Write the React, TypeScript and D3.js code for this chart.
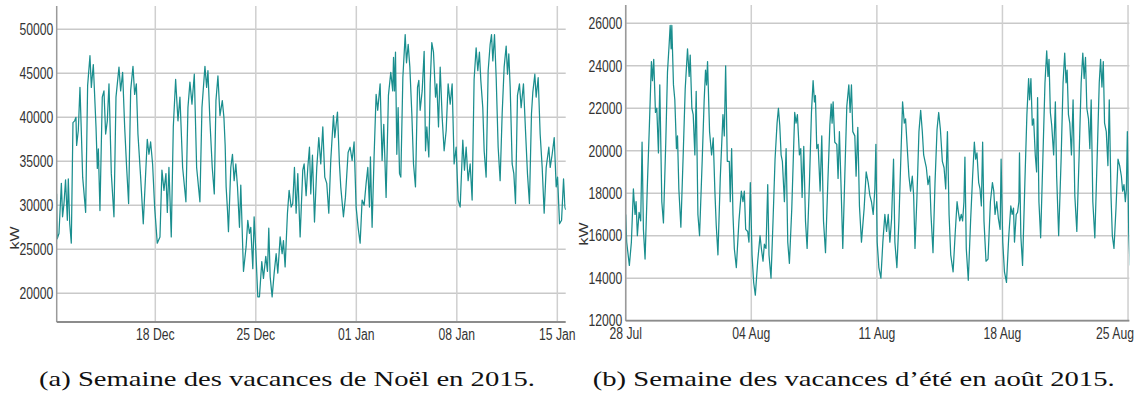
import React from "react";
import * as d3 from "d3";

// ---------- DATA ----------
// Panel (a): hours since 2015-12-11 00:00, load in kW
const noelStart = [2015, 11, 11];
const noelHourRange = [3.2, 854];
const noelKwRange = [16740, 52650];
const noelYTicks = [20000, 25000, 30000, 35000, 40000, 45000, 50000];
const noelSeries: [number, number][] = [
  [3,31300],[4,26200],[7,26800],[11,32500],[13,28700],[15.4,30200],[18,32900],[21,28300],[22.6,33000],[25,27900],
  [27.6,25700],[30.4,39400],[33.2,39600],[35.4,40000],[36.5,36800],[39.3,38500],[42.1,43400],[44.3,38500],[46.6,33200],
  [51.6,29200],[54.9,43600],[58.8,47000],[61.1,43400],[64.4,46000],[68.9,38900],[71.1,34200],[72.8,36400],[75.5,29400],
  [79.4,42300],[82.2,43000],[85,38100],[87.8,39600],[90.6,43800],[94.5,33600],[98.9,28700],[102.3,42300],[107.3,45700],
  [110.1,43000],[113.4,45100],[116.8,38900],[120.1,34300],[123.4,30200],[126.8,43000],[130.7,45800],[133.5,42600],
  [136.3,43800],[139,38100],[143.5,33200],[147.9,27900],[154.6,37500],[157.4,35800],[160.2,37200],[163.5,34700],
  [166.9,29800],[171.3,25700],[175.8,26400],[179.1,34000],[182.5,31700],[185.8,33600],[188.1,29200],[190.8,34300],
  [194.7,26400],[198.1,38900],[202,44300],[205.9,39600],[209.2,42300],[213.7,34300],[219.2,30400],[222.6,41100],
  [225.9,44000],[229.3,41500],[233.2,44900],[237.1,34300],[242.6,30400],[246,41100],[251,45800],[253.8,43400],
  [256,45300],[259.3,39600],[263.2,34300],[266.6,31300],[269.4,41900],[272.7,44700],[276.1,40200],[280,41900],
  [282.7,40000],[284.8,36800],[286.4,32100],[288.7,29400],[290.3,27000],[294.2,34300],[297,35800],[299.8,32800],
  [302.6,34700],[305.4,32100],[308.7,27500],[310.9,32300],[315.4,22500],[319.8,25300],[322.6,28300],[325.4,26800],
  [327.6,27500],[331,22800],[333.2,28700],[336,24900],[339.3,19600],[342.1,19600],[346,23600],[348.8,21700],
  [352.7,24200],[355.5,22500],[357.7,27400],[360,21900],[363.3,19600],[366.7,22300],[370,24500],[372.8,22300],
  [376.7,26400],[380,24500],[382.2,26000],[385,23000],[388.9,29100],[391.7,31700],[395.1,29800],[397.8,30200],
  [400.6,34300],[403.4,29100],[406.2,33600],[410.1,26400],[414.5,34000],[416.8,34700],[420.1,31100],[422.9,34300],
  [425.7,36600],[427.9,31300],[430.7,35700],[434.1,28100],[437.9,34300],[441.3,37700],[444.6,34700],[448,38900],
  [451.3,33200],[454.6,32500],[458,29100],[461.3,35100],[465.8,40200],[468,37700],[472.5,40600],[475.8,34700],
  [478,32100],[482.5,28700],[485.8,30900],[490.3,36000],[493.6,36600],[497,35100],[500.3,37200],[503.7,29800],
  [507,27500],[510.4,25700],[513.7,30600],[517.1,30000],[520.4,32500],[523.2,34300],[526,29800],[527.6,35500],
  [530.4,27500],[533.7,35500],[537.1,42600],[539.8,40800],[543.8,43800],[547.1,35100],[549.9,39200],[553.8,30900],
  [557.7,42500],[561.6,45100],[564.9,43000],[566.2,46800],[567.9,43000],[569.5,47400],[571.7,35800],[573.9,41100],
  [576.2,33600],[578.4,33200],[581.8,44500],[585.7,49400],[587.9,46200],[590.7,48300],[593.5,45700],[596.8,40400],
  [599.6,34700],[602.9,32100],[606.3,43400],[608.5,44200],[610.7,40800],[614.1,43000],[617.4,47500],[619.7,36200],
  [621.9,38900],[625.2,35500],[627.5,43800],[630.2,48500],[633,47400],[636.4,42300],[638.6,43800],[641.4,38900],
  [644.2,45700],[647.5,40000],[650.8,36200],[654.2,38500],[657.5,43800],[660.9,41500],[664.2,43800],[667.5,34700],
  [670.9,36600],[674.2,30600],[677.6,29800],[682,37400],[684.8,34000],[687.6,36600],[690.9,32800],[694.3,34700],
  [697.6,30600],[700.9,44300],[704.3,47900],[707.1,45300],[709.8,47400],[712.1,44200],[715.4,41100],[717.7,36200],
  [721,33200],[724.4,45300],[727.7,48300],[730,49400],[732.2,46400],[735,49400],[737.8,44500],[741.1,36600],
  [744.4,32800],[747.8,40400],[751.1,45700],[754.5,48100],[756.7,44900],[758.9,47200],[761.2,43400],[764.5,34700],
  [767.3,33600],[770.1,30200],[773.4,42500],[776.7,43800],[779.5,41100],[783.4,43800],[786.8,38500],[790.1,33600],
  [793.4,30200],[796.8,40400],[799,42800],[802.4,44900],[804.6,42300],[808,44500],[811.3,38100],[814.7,34300],
  [818,29100],[821.4,34300],[825.8,36600],[828.1,34300],[831.4,35800],[834.8,37700],[838.1,32100],[840.4,33200],
  [843.7,27900],[847.1,28300],[850.4,33000],[852.7,29800],[854,29500],
];

// Panel (b): hours since 2015-07-28 00:00, load in kW
const aoutStart = [2015, 6, 28];
const aoutHourRange = [0, 673.7];
const aoutKwRange = [12000, 26860];
const aoutYTicks = [12000, 14000, 16000, 18000, 20000, 22000, 24000, 26000];
const aoutSeries: [number, number][] = [
  [0,17000],[1.3,15700],[4.9,14600],[7.6,15700],[10.3,18200],[12.5,17000],[13.9,17600],[15.6,16000],[17.9,17100],
  [20.1,16700],[21.9,20400],[23.7,16300],[25.9,14900],[29.1,18500],[31.7,21200],[34.4,24200],[35.8,23300],[37.5,24300],
  [39.8,21800],[41.6,22000],[43.8,19900],[45.6,23100],[48.3,17600],[50.5,16600],[53.6,20400],[55.9,23700],[58.1,25000],
  [59.5,25900],[60.8,24800],[61.7,25900],[63.9,23100],[65.7,22400],[67.9,20100],[69.3,20700],[71.1,18200],[73.8,16400],
  [76.9,19800],[79.6,22900],[82.7,24800],[84.9,23500],[86.3,24500],[88.5,22000],[90.3,21700],[92.5,19800],[94.3,22800],
  [96.6,17000],[98.8,16000],[102.4,19600],[105,22400],[106.8,23800],[108.2,23100],[109.5,24200],[112.2,20900],
  [114.9,19800],[117.1,20600],[119.3,18100],[121.1,16500],[123.4,15100],[126.5,18700],[130.1,21700],[131.9,20700],
  [133.7,24000],[135.9,19500],[138.6,19500],[139.9,17600],[141.7,20100],[143.5,17000],[145.3,15400],[148,14500],
  [151.5,16700],[154.7,18100],[156.9,17600],[158.7,18100],[160.5,16300],[163.2,16200],[164.9,15700],[166.7,18500],
  [169,15100],[171.2,13800],[173.4,13200],[176.6,14800],[179.7,16000],[181.5,15400],[183.7,14800],[185.5,15600],
  [187.7,15400],[190,18400],[191.7,15100],[194.4,14000],[197.1,16700],[199.8,19600],[202.5,21300],[204.3,22000],
  [206.1,21200],[207.9,19800],[209.6,19500],[212.3,17600],[214.6,20100],[216.8,15700],[219,14700],[222.2,17300],
  [226.1,21800],[227.9,21300],[229.7,21700],[232.4,19800],[234.2,20100],[236,17800],[238.2,20200],[240.5,16700],
  [242.7,15400],[245.8,18500],[248.5,21800],[250.7,23300],[252.5,22300],[253.8,22600],[255.6,20100],[257.4,20300],
  [260.1,18100],[262.3,20700],[264.6,16700],[267.3,15200],[270.4,18500],[273.1,21200],[274.9,22200],[276.1,21300],
  [277.5,22300],[279.7,20400],[282.4,20300],[284.1,18700],[285.9,20900],[288.2,18200],[290.4,15400],[293.1,18800],
  [295.8,22100],[298.5,23100],[300.2,21800],[302,23100],[303.8,20900],[306.5,20700],[308.2,18800],[310.5,21100],
  [312.7,17400],[315.4,15700],[319,17300],[321.7,19000],[324.4,18500],[326.6,17900],[328.8,17600],[331.1,17000],
  [333.3,18200],[334.7,20300],[336.4,15700],[338.7,14500],[341.4,14000],[344,15700],[346.7,17000],[349,16200],
  [351.2,17000],[353.4,15700],[355.7,16800],[358.3,19600],[360.1,15700],[362.8,14500],[365.5,16700],[368.2,19800],
  [370.4,22300],[372.7,21300],[374.4,21500],[376.7,20100],[378.9,18800],[381.1,18100],[383.4,18800],[385.2,17900],
  [387,15400],[389.6,17800],[392.3,20900],[394.6,21900],[396.8,20900],[398.6,19800],[400.4,19500],[402.2,19200],
  [404.4,18400],[406.6,18800],[408.4,17000],[411.1,15200],[413.8,18500],[416.5,21000],[418.7,21800],[421,21000],
  [423.6,19500],[425.9,19200],[428.1,18200],[430.4,20900],[432.6,17000],[434.8,15100],[438,14300],[440.6,16000],
  [443.3,17600],[445.1,17100],[446.9,16700],[448.9,17000],[450.7,16700],[452.5,17600],[453.8,19700],[455.6,15400],
  [458.3,13900],[461.4,16700],[464.1,18800],[466.4,20400],[468.2,19600],[469.9,19900],[472.2,18500],[474,18200],
  [475.8,17400],[477.5,20400],[479.3,16700],[482,14800],[484.7,14900],[487.9,17600],[490.6,18500],[492.4,18100],
  [494.1,17000],[496.4,17600],[498.6,16800],[500.9,16300],[502.2,19600],[504.4,15700],[506.7,14300],[509.4,13800],
  [512.5,16000],[515.2,17400],[517,17000],[518.8,17300],[520.1,15700],[522.4,17000],[524.2,17100],[526,17600],
  [526.8,19900],[528.6,16000],[530.9,14600],[534,18500],[536.7,21700],[539,23400],[540.3,22400],[542.1,23400],
  [543.9,21200],[545.7,21500],[547.9,19800],[549.7,19000],[551,22500],[552.8,17600],[555.1,15900],[558.2,19800],
  [560.9,23200],[563.2,24700],[564.9,23500],[566.3,24300],[568.1,21800],[569.9,21200],[572.5,19800],[574.8,22300],
  [576.5,18800],[579.2,16000],[582.4,19500],[585.1,23200],[587.3,24600],[589.1,23200],[590.5,23800],[592.3,21700],
  [594.1,21300],[596.3,19800],[598.5,22400],[600.8,17900],[603.5,16200],[606.6,19800],[609.3,23200],[611.5,24600],
  [613.3,23400],[615.1,24400],[616.9,22000],[619.1,21500],[620.9,20100],[622.7,22400],[624.9,17600],[627.6,15900],
  [630.8,19800],[633.5,23200],[635.3,24300],[637.1,23000],[638.9,24200],[640.6,21300],[642.9,20900],[645.1,19300],
  [646.9,22400],[649.2,17900],[651,16000],[653.2,15400],[655.9,17300],[658.6,19600],[660.8,19300],[663.1,18800],
  [664.8,18100],[666.6,18400],[668.4,17600],[669.8,18200],[671.1,20900],[672.9,16200],[674.7,14600],
];

const unitLabel = "kW";
const noelCaption = "(a) Semaine des vacances de Noël en 2015.";
const aoutCaption = "(b) Semaine des vacances d\u2019été en août 2015.";

// ---------- DRAWING ----------
const W = 1137;
const H = 394;
const HOUR = 3600 * 1000;
const SANS = "'Liberation Sans', Arial, sans-serif";
const SERIF = "'Liberation Serif', 'Times New Roman', serif";
const FS = 16;
const SQUISH = 0.76;

type Box = { left: number; right: number; top: number; bottom: number };

function Panel(props: {
  id: string;
  start: number[];
  hourRange: number[];
  kwRange: number[];
  yTicks: number[];
  series: [number, number][];
  interval: d3.CountableTimeInterval;
  box: Box;
  kw: [number, number];
  caption: string;
  capX: number;
  capW: number;
}) {
  const { id, start, hourRange, kwRange, yTicks, series, interval, box, kw, caption, capX, capW } = props;
  const t0 = new Date(start[0], start[1], start[2]).getTime();
  const toDate = (h: number) => new Date(t0 + h * HOUR);
  const x = d3.scaleTime().domain([toDate(hourRange[0]), toDate(hourRange[1])]).range([box.left, box.right]);
  const y = d3.scaleLinear().domain(kwRange).range([box.bottom, box.top]);
  const xTicks = x.ticks(interval);
  const fmt = d3.timeFormat("%d %b");
  const line = d3
    .line<[number, number]>()
    .x((d) => x(toDate(d[0])))
    .y((d) => y(d[1]));
  // keep tick labels inside the picture (approximate label width)
  const labelX = (d: Date) => {
    const half = (fmt(d).length * FS * 0.52 * SQUISH) / 2;
    return Math.min(x(d), W - 3 - half);
  };

  return (
    <g>
      <defs>
        <clipPath id={`clip-${id}`}>
          <rect x={box.left} y={box.top} width={box.right - box.left} height={box.bottom - box.top} />
        </clipPath>
      </defs>
      {yTicks.map((v) => (
        <line key={"gy" + v} x1={box.left} x2={box.right} y1={y(v)} y2={y(v)} stroke="#c9c9c9" strokeWidth={1.5} />
      ))}
      {xTicks.map((d) => (
        <line key={"gx" + +d} x1={x(d)} x2={x(d)} y1={box.top} y2={box.bottom} stroke="#cfcfcf" strokeWidth={1.5} />
      ))}
      <path
        d={line(series) || ""}
        fill="none"
        stroke="#1a8e8e"
        strokeWidth={1.25}
        strokeLinejoin="round"
        clipPath={`url(#clip-${id})`}
      />
      <line x1={box.left} x2={box.left} y1={box.top} y2={box.bottom} stroke="#9a9a9a" strokeWidth={1.5} />
      <line x1={box.left} x2={box.right} y1={box.bottom} y2={box.bottom} stroke="#8c8c8c" strokeWidth={1.8} />
      {yTicks.map((v) => (
        <text
          key={"ty" + v}
          transform={`translate(${box.left - 3.5},${y(v)}) scale(${SQUISH},1)`}
          dy="0.36em"
          textAnchor="end"
          fontFamily={SANS}
          fontSize={FS}
          fill="#333"
        >
          {v}
        </text>
      ))}
      {xTicks.map((d) => (
        <text
          key={"tx" + +d}
          transform={`translate(${labelX(d)},${box.bottom + 18}) scale(${SQUISH},1)`}
          textAnchor="middle"
          fontFamily={SANS}
          fontSize={FS}
          fill="#333"
        >
          {fmt(d)}
        </text>
      ))}
      <text
        transform={`translate(${kw[0]},${kw[1]}) scale(${SQUISH},1) rotate(-90)`}
        dy="0.36em"
        textAnchor="middle"
        fontFamily={SANS}
        fontSize={FS}
        fill="#333"
      >
        {unitLabel}
      </text>
      <text
        x={capX}
        y={386}
        textAnchor="middle"
        fontFamily={SERIF}
        fontSize={21}
        fill="#111"
        textLength={capW}
        lengthAdjust="spacingAndGlyphs"
      >
        {caption}
      </text>
    </g>
  );
}

export default function App() {
  return (
    <svg
      width={W}
      height={H}
      viewBox={`0 0 ${W} ${H}`}
      style={{ position: "absolute", left: 0, top: 0, display: "block", background: "#fff" }}
    >
      <rect x={0} y={0} width={W} height={H} fill="#fff" />
      <Panel
        id="a"
        start={noelStart}
        hourRange={noelHourRange}
        kwRange={noelKwRange}
        yTicks={noelYTicks}
        series={noelSeries}
        interval={d3.timeFriday}
        box={{ left: 56.7, right: 565.7, top: 6, bottom: 322 }}
        kw={[15, 238]}
        caption={noelCaption}
        capX={287}
        capW={496}
      />
      <Panel
        id="b"
        start={aoutStart}
        hourRange={aoutHourRange}
        kwRange={aoutKwRange}
        yTicks={aoutYTicks}
        series={aoutSeries}
        interval={d3.timeTuesday}
        box={{ left: 625.7, right: 1129.3, top: 5, bottom: 320.7 }}
        kw={[584, 234]}
        caption={aoutCaption}
        capX={853.7}
        capW={522}
      />
    </svg>
  );
}
